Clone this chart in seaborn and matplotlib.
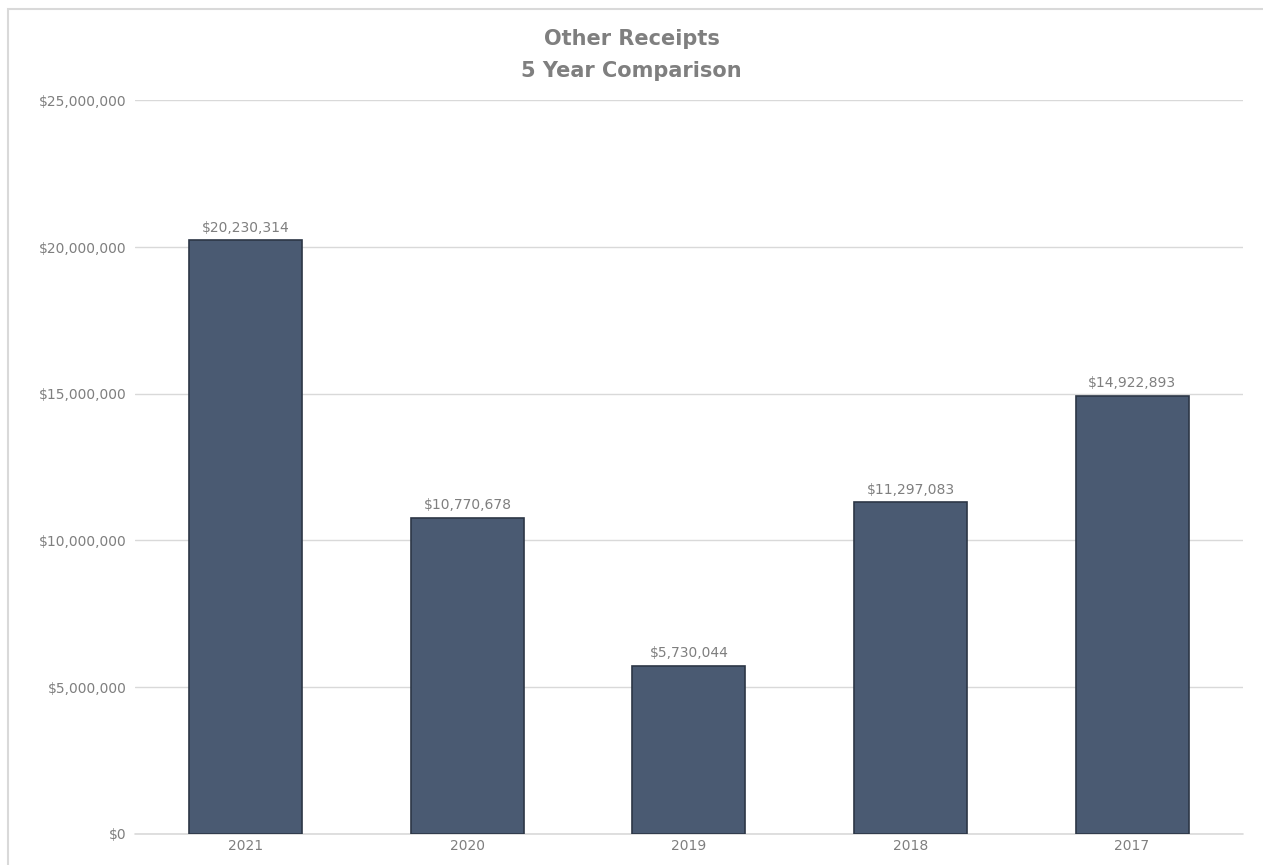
import matplotlib
matplotlib.use("Agg")
import matplotlib.pyplot as plt
import seaborn as sns
import pandas as pd
from matplotlib.patches import Rectangle
from matplotlib.ticker import FuncFormatter

# Chart values
years = ["2021", "2020", "2019", "2018", "2017"]
receipts = [20230314, 10770678, 5730044, 11297083, 14922893]
y_ticks = [0, 5000000, 10000000, 15000000, 20000000, 25000000]

df = pd.DataFrame({"Year": years, "Receipts": receipts})

sns.set_theme(style="white")
plt.rcParams['font.family'] = ['DejaVu Sans']

fig = plt.figure(figsize=(12.63, 8.65), dpi=100)
ax = fig.add_axes([0.107, 0.036, 0.877, 0.848])

bar_color = "#4a5a72"
sns.barplot(data=df, x="Year", y="Receipts", color=bar_color, width=0.51,
            saturation=1, ax=ax, edgecolor="#2c3646", linewidth=1.2, zorder=3)

ax.set_ylim(0, 25000000)
ax.set_yticks(y_ticks)
ax.yaxis.set_major_formatter(FuncFormatter(lambda v, p: f"${v:,.0f}"))
ax.grid(axis="y", color="#d9d9d9", linewidth=1, zorder=0)
ax.axhline(0, color="#d9d9d9", linewidth=1.2, zorder=2, clip_on=False)
ax.set_xlabel("")
ax.set_ylabel("")
for s in ax.spines.values():
    s.set_visible(False)
ax.tick_params(axis="both", length=0, labelsize=10, colors="#7f7f7f", pad=6)
ax.tick_params(axis="x", pad=4)

for c in ax.containers:
    ax.bar_label(c, labels=[f"${v:,.0f}" for v in receipts], padding=4,
                 fontsize=10, color="#7f7f7f")

fig.text(0.5, 0.955, "Other Receipts", ha="center", va="center",
         fontsize=15, fontweight="bold", color="#7f7f7f")
fig.text(0.5, 0.918, "5 Year Comparison", ha="center", va="center",
         fontsize=15, fontweight="bold", color="#7f7f7f")

# outer chart border
fig.patches.append(Rectangle((8 / 1263, -0.01), 1.0, 1 - 9 / 865 + 0.01,
                             transform=fig.transFigure, fill=False,
                             edgecolor="#d9d9d9", linewidth=1.5))

fig.savefig("out.png", dpi=100)
